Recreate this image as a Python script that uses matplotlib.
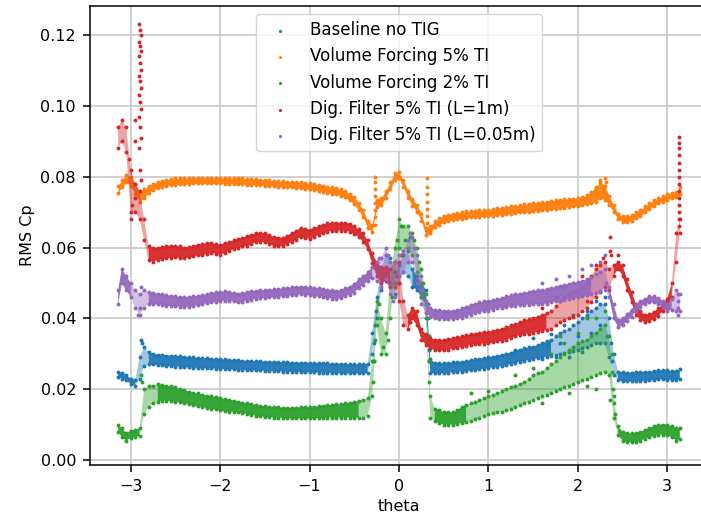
import matplotlib
matplotlib.use("Agg")
import matplotlib.pyplot as plt
import numpy as np

# theta sample positions
theta = [-3.14, -3.10, -3.05, -3.00, -2.95, -2.90, -2.85, -2.80, -2.75, -2.70,
         -2.65, -2.60, -2.55, -2.50, -2.45, -2.40, -2.35, -2.30, -2.25, -2.20,
         -2.15, -2.10, -2.05, -2.00, -1.95, -1.90, -1.85, -1.80, -1.75, -1.70,
         -1.65, -1.60, -1.55, -1.50, -1.45, -1.40, -1.35, -1.30, -1.25, -1.20,
         -1.15, -1.10, -1.05, -1.00, -0.95, -0.90, -0.85, -0.80, -0.75, -0.70,
         -0.65, -0.60, -0.55, -0.50, -0.45, -0.40, -0.35, -0.30, -0.25, -0.20,
         -0.15, -0.10, -0.05, 0.00, 0.05, 0.10, 0.15, 0.20, 0.25, 0.30,
         0.35, 0.40, 0.45, 0.50, 0.55, 0.60, 0.65, 0.70, 0.75, 0.80,
         0.85, 0.90, 0.95, 1.00, 1.05, 1.10, 1.15, 1.20, 1.25, 1.30,
         1.35, 1.40, 1.45, 1.50, 1.55, 1.60, 1.65, 1.70, 1.75, 1.80,
         1.85, 1.90, 1.95, 2.00, 2.05, 2.10, 2.15, 2.20, 2.25, 2.30,
         2.35, 2.40, 2.45, 2.50, 2.55, 2.60, 2.65, 2.70, 2.75, 2.80,
         2.85, 2.90, 2.95, 3.00, 3.05, 3.10, 3.14]

# lower / upper edge of each scatter band
base_lo = [.0235, .0230, .0225, .0215, .0210, .0230, .0265, .0270, .0270, .0268,
           .0268, .0265, .0265, .0264, .0264, .0262, .0262, .0261, .0260, .0260,
           .0259, .0259, .0258, .0258, .0257, .0256, .0256, .0255, .0255, .0254,
           .0254, .0253, .0253, .0252, .0252, .0251, .0251, .0250, .0250, .0249,
           .0249, .0249, .0248, .0248, .0248, .0247, .0247, .0247, .0246, .0246,
           .0246, .0245, .0245, .0245, .0245, .0245, .0245, .0300, .0400, .0480,
           .0520, .0500, .0470, .0500, .0530, .0520, .0490, .0480, .0460, .0440,
           .0245, .0245, .0245, .0246, .0247, .0248, .0249, .0250, .0251, .0253,
           .0255, .0256, .0258, .0260, .0262, .0264, .0266, .0268, .0271, .0275,
           .0277, .0280, .0282, .0285, .0287, .0290, .0292, .0295, .0298, .0300,
           .0302, .0305, .0308, .0310, .0315, .0320, .0325, .0330, .0330, .0330,
           .0290, .0240, .0225, .0222, .0222, .0222, .0223, .0223, .0224, .0225,
           .0226, .0228, .0228, .0227, .0226, .0225, .0228]
base_hi = [.0250, .0245, .0240, .0230, .0225, .0290, .0320, .0305, .0300, .0298,
           .0298, .0295, .0295, .0294, .0293, .0292, .0291, .0290, .0289, .0288,
           .0287, .0286, .0286, .0285, .0284, .0283, .0283, .0282, .0281, .0280,
           .0280, .0279, .0279, .0278, .0278, .0277, .0277, .0276, .0276, .0275,
           .0275, .0275, .0275, .0275, .0274, .0274, .0273, .0273, .0272, .0272,
           .0272, .0271, .0271, .0270, .0270, .0270, .0272, .0360, .0460, .0530,
           .0580, .0570, .0530, .0550, .0580, .0590, .0540, .0520, .0500, .0480,
           .0285, .0275, .0273, .0274, .0275, .0276, .0277, .0278, .0280, .0282,
           .0284, .0286, .0288, .0290, .0292, .0295, .0298, .0300, .0303, .0310,
           .0312, .0315, .0318, .0320, .0325, .0330, .0335, .0340, .0350, .0360,
           .0365, .0370, .0380, .0390, .0400, .0410, .0420, .0430, .0440, .0440,
           .0400, .0300, .0250, .0248, .0247, .0247, .0248, .0248, .0249, .0250,
           .0251, .0253, .0254, .0253, .0252, .0252, .0256]

vf5_lo = [.0755, .0770, .0785, .0775, .0750, .0730, .0740, .0755, .0762, .0768,
          .0772, .0775, .0777, .0778, .0779, .0780, .0780, .0781, .0781, .0781,
          .0781, .0781, .0781, .0781, .0780, .0780, .0780, .0779, .0779, .0778,
          .0778, .0777, .0776, .0775, .0774, .0773, .0772, .0771, .0770, .0770,
          .0769, .0768, .0766, .0765, .0763, .0760, .0758, .0755, .0752, .0750,
          .0746, .0742, .0733, .0722, .0705, .0685, .0655, .0645, .0715, .0720,
          .0740, .0765, .0790, .0795, .0770, .0740, .0718, .0700, .0675, .0635,
          .0640, .0658, .0665, .0672, .0675, .0678, .0680, .0682, .0684, .0685,
          .0686, .0687, .0688, .0688, .0690, .0692, .0693, .0695, .0696, .0697,
          .0699, .0700, .0701, .0702, .0704, .0705, .0707, .0708, .0710, .0712,
          .0713, .0715, .0716, .0718, .0720, .0722, .0726, .0730, .0740, .0735,
          .0720, .0700, .0680, .0672, .0672, .0676, .0683, .0690, .0700, .0710,
          .0718, .0725, .0730, .0735, .0739, .0742, .0750]
vf5_hi = [.0775, .0790, .0805, .0800, .0780, .0755, .0765, .0775, .0780, .0785,
          .0788, .0792, .0793, .0795, .0795, .0796, .0796, .0797, .0797, .0797,
          .0797, .0797, .0797, .0797, .0796, .0796, .0796, .0795, .0795, .0794,
          .0794, .0793, .0792, .0791, .0790, .0789, .0788, .0787, .0786, .0786,
          .0785, .0784, .0782, .0781, .0779, .0777, .0775, .0772, .0770, .0768,
          .0764, .0760, .0751, .0742, .0725, .0705, .0675, .0665, .0735, .0740,
          .0760, .0785, .0810, .0812, .0790, .0760, .0738, .0720, .0695, .0655,
          .0660, .0675, .0683, .0690, .0693, .0696, .0698, .0700, .0702, .0703,
          .0704, .0705, .0706, .0706, .0709, .0712, .0713, .0715, .0717, .0718,
          .0720, .0722, .0724, .0726, .0727, .0728, .0730, .0731, .0733, .0735,
          .0736, .0737, .0738, .0740, .0743, .0748, .0758, .0770, .0785, .0775,
          .0745, .0720, .0695, .0688, .0688, .0692, .0699, .0706, .0716, .0726,
          .0733, .0740, .0745, .0750, .0754, .0757, .0770]

vf2_lo = [.0080, .0065, .0055, .0063, .0066, .0068, .0130, .0150, .0160, .0165,
          .0168, .0168, .0166, .0165, .0163, .0160, .0158, .0155, .0152, .0150,
          .0147, .0145, .0143, .0140, .0138, .0137, .0136, .0135, .0132, .0130,
          .0128, .0125, .0123, .0122, .0121, .0120, .0120, .0119, .0118, .0118,
          .0118, .0118, .0118, .0118, .0118, .0119, .0119, .0120, .0120, .0120,
          .0120, .0120, .0120, .0120, .0120, .0120, .0125, .0180, .0380, .0300,
          .0300, .0400, .0500, .0600, .0580, .0600, .0580, .0530, .0460, .0400,
          .0120, .0110, .0105, .0100, .0100, .0100, .0102, .0105, .0108, .0110,
          .0115, .0120, .0125, .0130, .0132, .0135, .0137, .0140, .0145, .0150,
          .0155, .0160, .0165, .0170, .0175, .0180, .0185, .0190, .0195, .0200,
          .0205, .0210, .0215, .0220, .0225, .0230, .0235, .0240, .0245, .0250,
          .0240, .0120, .0070, .0055, .0052, .0050, .0052, .0055, .0060, .0065,
          .0068, .0072, .0072, .0070, .0065, .0055, .0060]
vf2_hi = [.0100, .0090, .0075, .0083, .0085, .0090, .0200, .0210, .0210, .0215,
          .0212, .0210, .0208, .0205, .0200, .0197, .0193, .0190, .0188, .0185,
          .0182, .0180, .0178, .0175, .0172, .0170, .0168, .0165, .0162, .0160,
          .0158, .0155, .0153, .0152, .0151, .0150, .0149, .0148, .0148, .0148,
          .0148, .0149, .0150, .0150, .0151, .0152, .0153, .0155, .0156, .0157,
          .0158, .0160, .0162, .0164, .0166, .0170, .0175, .0280, .0450, .0400,
          .0360, .0500, .0600, .0680, .0660, .0660, .0640, .0600, .0540, .0470,
          .0180, .0145, .0140, .0135, .0135, .0135, .0140, .0150, .0155, .0160,
          .0165, .0170, .0175, .0180, .0185, .0190, .0195, .0200, .0205, .0210,
          .0215, .0220, .0230, .0240, .0245, .0250, .0260, .0270, .0280, .0290,
          .0300, .0310, .0320, .0330, .0335, .0340, .0350, .0360, .0370, .0380,
          .0350, .0180, .0095, .0080, .0076, .0075, .0076, .0080, .0085, .0090,
          .0095, .0100, .0100, .0100, .0095, .0090, .0090]

df1_lo = [.0880, .0900, .0870, .0700, .0700, .0680, .0620, .0565, .0560, .0565,
          .0568, .0570, .0571, .0572, .0571, .0570, .0572, .0575, .0578, .0580,
          .0582, .0585, .0583, .0580, .0585, .0590, .0595, .0600, .0603, .0605,
          .0610, .0615, .0617, .0615, .0610, .0605, .0603, .0605, .0610, .0615,
          .0622, .0630, .0628, .0625, .0630, .0635, .0640, .0645, .0647, .0648,
          .0648, .0648, .0645, .0638, .0630, .0615, .0595, .0555, .0520, .0500,
          .0505, .0490, .0490, .0450, .0380, .0370, .0400, .0380, .0340, .0325,
          .0315, .0310, .0310, .0310, .0312, .0315, .0317, .0320, .0322, .0325,
          .0327, .0328, .0329, .0330, .0332, .0335, .0337, .0340, .0345, .0350,
          .0352, .0355, .0357, .0360, .0362, .0365, .0367, .0370, .0380, .0390,
          .0395, .0400, .0405, .0410, .0420, .0430, .0445, .0460, .0475, .0490,
          .0480, .0520, .0540, .0520, .0480, .0445, .0410, .0395, .0390, .0392,
          .0398, .0408, .0420, .0430, .0460, .0560, .0640]
df1_hi = [.0940, .0960, .0940, .0820, .0780, .0760, .0680, .0605, .0600, .0600,
          .0602, .0605, .0605, .0605, .0603, .0600, .0602, .0605, .0608, .0610,
          .0612, .0612, .0610, .0608, .0612, .0615, .0620, .0625, .0628, .0632,
          .0636, .0640, .0642, .0640, .0635, .0630, .0628, .0628, .0634, .0640,
          .0648, .0655, .0653, .0650, .0655, .0660, .0664, .0668, .0670, .0670,
          .0670, .0670, .0667, .0660, .0652, .0640, .0620, .0585, .0560, .0545,
          .0545, .0540, .0560, .0560, .0450, .0410, .0430, .0420, .0370, .0355,
          .0345, .0340, .0340, .0340, .0342, .0345, .0347, .0350, .0352, .0355,
          .0357, .0360, .0361, .0362, .0365, .0368, .0371, .0375, .0380, .0385,
          .0390, .0395, .0397, .0400, .0405, .0410, .0415, .0420, .0435, .0450,
          .0460, .0470, .0475, .0480, .0490, .0500, .0520, .0540, .0550, .0560,
          .0540, .0550, .0560, .0550, .0510, .0475, .0440, .0420, .0410, .0412,
          .0418, .0428, .0440, .0455, .0500, .0640, .0680]

df005_lo = [.0440, .0500, .0480, .0460, .0430, .0410, .0430, .0440, .0440, .0440,
            .0438, .0435, .0435, .0435, .0433, .0432, .0433, .0435, .0437, .0440,
            .0443, .0445, .0447, .0448, .0450, .0450, .0448, .0445, .0447, .0450,
            .0453, .0455, .0457, .0458, .0459, .0460, .0461, .0462, .0463, .0465,
            .0467, .0468, .0467, .0465, .0463, .0462, .0460, .0458, .0456, .0455,
            .0457, .0462, .0467, .0472, .0485, .0495, .0505, .0515, .0505, .0490,
            .0510, .0470, .0460, .0520, .0530, .0560, .0560, .0500, .0440, .0415,
            .0405, .0400, .0399, .0398, .0398, .0398, .0400, .0402, .0406, .0410,
            .0414, .0418, .0420, .0422, .0425, .0428, .0430, .0432, .0434, .0435,
            .0437, .0438, .0439, .0440, .0440, .0440, .0442, .0445, .0448, .0450,
            .0452, .0455, .0458, .0460, .0462, .0465, .0468, .0472, .0476, .0480,
            .0460, .0400, .0375, .0380, .0392, .0405, .0420, .0432, .0440, .0445,
            .0445, .0440, .0432, .0420, .0425, .0420, .0420]
df005_hi = [.0480, .0540, .0520, .0500, .0480, .0470, .0480, .0475, .0472, .0470,
            .0468, .0465, .0464, .0462, .0461, .0460, .0461, .0462, .0464, .0465,
            .0468, .0472, .0474, .0475, .0476, .0475, .0473, .0470, .0472, .0475,
            .0477, .0478, .0479, .0480, .0481, .0482, .0483, .0485, .0486, .0488,
            .0489, .0490, .0489, .0488, .0486, .0485, .0483, .0480, .0479, .0478,
            .0480, .0485, .0490, .0498, .0510, .0520, .0530, .0545, .0560, .0570,
            .0600, .0560, .0560, .0580, .0590, .0620, .0630, .0580, .0520, .0450,
            .0430, .0425, .0423, .0422, .0422, .0422, .0425, .0428, .0433, .0438,
            .0442, .0445, .0448, .0450, .0452, .0455, .0458, .0462, .0465, .0468,
            .0470, .0472, .0475, .0478, .0479, .0480, .0482, .0485, .0489, .0492,
            .0495, .0498, .0500, .0502, .0506, .0510, .0517, .0525, .0532, .0540,
            .0490, .0440, .0395, .0400, .0412, .0425, .0440, .0450, .0456, .0462,
            .0462, .0458, .0450, .0440, .0455, .0480, .0470]

# stray points, spikes and vertical jumps
base_x = [-2.88, -2.87, -0.28, -0.28, -0.27, -0.26, 0.32, 0.32, 0.33, 0.33, 0.34,
          1.50, 1.60, 1.65, 1.70, 1.75, 1.80, 1.85, 1.90, 1.95, 2.00, 2.05, 2.10,
          2.15, 2.20, 2.25, 2.30, 2.33, 2.37, 2.38]
base_y = [.0340, .0330, .0280, .0330, .0380, .0420, .0440, .0400, .0350, .0310, .0280,
          .0345, .0285, .0325, .0355, .0290, .0330, .0380, .0290, .0410, .0350, .0305, .0420,
          .0360, .0450, .0380, .0460, .0350, .0330, .0280]

vf5_x = [-0.27, -0.27, -0.27, -0.27, -0.27, -0.27, -0.27, -0.27,
         0.31, 0.31, 0.31, 0.31, 0.31, 0.31, 0.31, 0.31,
         2.20, 2.25, 2.28, 2.30, 2.32]
vf5_y = [.0665, .0685, .0705, .0725, .0745, .0765, .0785, .0800,
         .0650, .0670, .0690, .0710, .0730, .0750, .0770, .0795,
         .0765, .0790, .0760, .0795, .0785]

vf2_x = [-2.88, -2.87, -0.29, -0.28, -0.27, -0.22, -0.18, -0.12, -0.08, -0.02, 0.02,
         0.07, 0.12, 0.17, 0.22, 0.27, 0.33, 0.33, 0.34, 0.80, 1.00, 1.30, 1.50,
         1.60, 1.70, 1.80, 1.85, 1.90, 2.00, 2.10, 2.10, 2.20, 2.20, 2.30, 2.36,
         2.38, 2.38, 2.39, 2.40, 2.42]
vf2_y = [.0240, .0220, .0220, .0280, .0340, .0440, .0320, .0340, .0460, .0620, .0660,
         .0620, .0630, .0620, .0560, .0500, .0350, .0280, .0220, .0190, .0195, .0240, .0260,
         .0160, .0300, .0350, .0330, .0190, .0360, .0400, .0210, .0400, .0200, .0420, .0170,
         .0300, .0250, .0200, .0160, .0130]

df1_x = [-3.02, -3.00, -2.98, -2.95, -2.95, -2.95,
         -2.91, -2.90, -2.89, -2.91, -2.90, -2.89, -2.91, -2.90, -2.89, -2.91,
         -2.90, -2.89, -2.91, -2.90, -2.89, -2.91, -2.90, -2.89, -2.91, -2.90, -2.89,
         -0.02, 0.00, 0.02, 0.12, 0.17,
         1.60, 1.75, 1.85, 1.95, 2.05, 2.10, 2.20, 2.28, 2.36, 2.36, 2.37, 2.45,
         3.13, 3.13, 3.13, 3.13, 3.13, 3.13, 3.13, 3.13, 3.13, 3.13, 3.13, 3.13, 3.13, 3.13]
df1_y = [.0850, .0680, .0720, .0960, .0900, .0740,
         .1230, .1215, .1200, .1180, .1170, .1155, .1140, .1120, .1100, .1085,
         .1070, .1050, .1030, .1010, .0990, .0970, .0940, .0910, .0880, .0820, .0790,
         .0520, .0500, .0580, .0390, .0410,
         .0430, .0460, .0490, .0500, .0520, .0450, .0550, .0570, .0630, .0590, .0580, .0580,
         .0913, .0895, .0880, .0860, .0840, .0820, .0800, .0780, .0760, .0740, .0720, .0700, .0680, .0660]

df005_x = [-2.92, -2.90, -2.88, -0.22, -0.12, -0.07, 0.12, 0.17, 0.22, 0.26,
           1.60, 1.75, 1.90, 2.05, 2.15, 2.25, 2.30, 2.32,
           3.12, 3.12, 3.12, 3.12]
df005_y = [.0410, .0430, .0490, .0570, .0580, .0450, .0640, .0600, .0500, .0480,
           .0500, .0510, .0520, .0540, .0550, .0560, .0580, .0500,
           .0410, .0430, .0450, .0470]

labels = ["Baseline no TIG", "Volume Forcing 5% TI", "Volume Forcing 2% TI",
          "Dig. Filter 5% TI (L=1m)", "Dig. Filter 5% TI (L=0.05m)"]

series = [(base_lo, base_hi, base_x, base_y),
          (vf5_lo, vf5_hi, vf5_x, vf5_y),
          (vf2_lo, vf2_hi, vf2_x, vf2_y),
          (df1_lo, df1_hi, df1_x, df1_y),
          (df005_lo, df005_hi, df005_x, df005_y)]

plt.rcParams["font.size"] = 11.5

fig = plt.figure(figsize=(7.01, 5.20), dpi=100)
ax = fig.add_axes([90 / 701, 55 / 520, 618 / 701, 459 / 520])

t = np.array(theta)
for i, (lo, hi, ex, ey) in enumerate(series):
    lo = np.array(lo)
    hi = np.array(hi)
    z = 2 + i * 0.1
    # dense part of the band drawn solid, wide scatter drawn faint
    tight = (hi - lo) <= 0.005
    wide = ~tight
    wide_ext = wide | np.r_[wide[1:], False] | np.r_[False, wide[:-1]]
    ax.fill_between(t, lo, hi, where=tight, color=f"C{i}", alpha=0.95,
                    linewidth=0, zorder=z)
    ax.fill_between(t, lo, hi, where=wide_ext, color=f"C{i}", alpha=0.42,
                    linewidth=0, zorder=z)
    xs = theta + theta + ex
    ys = list(lo) + list(hi) + ey
    ax.scatter(xs, ys, s=8, color=f"C{i}", label=labels[i], linewidths=0, zorder=z)

ax.set_xlim(-3.455, 3.455)
ax.set_ylim(-0.0014, 0.1282)
ax.set_yticks([0.0, 0.02, 0.04, 0.06, 0.08, 0.10, 0.12])
ax.set_xticks([-3, -2, -1, 0, 1, 2, 3])
ax.tick_params(length=5, width=1.1, pad=5)
for sp in ax.spines.values():
    sp.set_linewidth(1.1)
ax.grid(True, color="#c8c8c8", linewidth=1.2)
ax.set_axisbelow(True)
ax.set_xlabel("theta")
ax.set_ylabel("RMS Cp")
ax.legend(loc="upper center", scatterpoints=1, markerscale=0.8, fontsize=12)

fig.savefig("out.png", dpi=100)
